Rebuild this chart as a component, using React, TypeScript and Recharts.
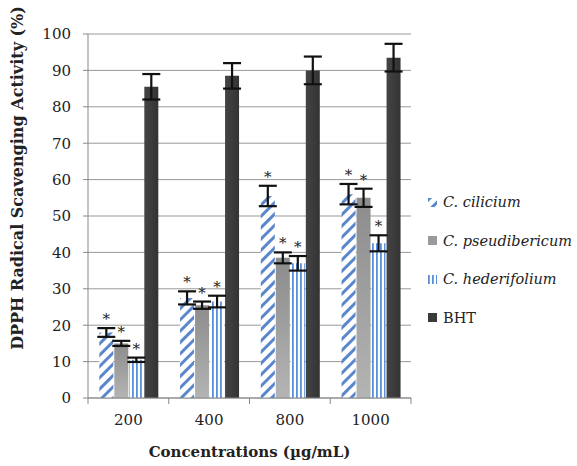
import { BarChart, Bar, XAxis, YAxis, CartesianGrid, ErrorBar, LabelList } from "recharts";

const concentrations = ["200", "400", "800", "1000"];
const cilicium = [18, 27.5, 55.5, 56];
const ciliciumErr = [1.2, 1.8, 2.8, 2.8];
const pseudibericum = [15, 25.5, 38.5, 55];
const pseudibericumErr = [0.7, 1, 1.5, 2.5];
const hederifolium = [10.5, 26.5, 37, 42.5];
const hederifoliumErr = [0.6, 1.6, 2, 2.2];
const bht = [85.5, 88.5, 90, 93.5];
const bhtErr = [3.5, 3.5, 3.8, 3.8];
const yTicks = [0, 10, 20, 30, 40, 50, 60, 70, 80, 90, 100];

const data = concentrations.map((c, i) => ({
  conc: c,
  cil: cilicium[i], cilErr: ciliciumErr[i],
  pse: pseudibericum[i], pseErr: pseudibericumErr[i],
  hed: hederifolium[i], hedErr: hederifoliumErr[i],
  bht: bht[i], bhtErr: bhtErr[i],
}));

const legendItems = [
  { name: "C. cilicium", fill: "url(#diag)", italic: true },
  { name: "C. pseudibericum", fill: "#9a9a9a", italic: true },
  { name: "C. hederifolium", fill: "url(#vert)", italic: true },
  { name: "BHT", fill: "#3a3a3a", italic: false },
];

const font = "'DejaVu Serif', 'Liberation Serif', serif";

const star = (errs: number[]) => (props: any) => {
  const { x, y, width, height, value, index } = props;
  const perUnit = value ? height / value : 0;
  const top = y - errs[index] * perUnit;
  return (
    <text x={x + width / 2} y={top - 4} textAnchor="middle" fontSize={15} fill="#222" fontFamily={font}>*</text>
  );
};

const XTick = (props: any) => {
  const { x, y, payload, index } = props;
  const off = payload.offset || 0;
  return (
    <g>
      <line x1={x - off} x2={x - off} y1={y - 8} y2={y - 2} stroke="#888" />
      {index === concentrations.length - 1 && (
        <line x1={x + off} x2={x + off} y1={y - 8} y2={y - 2} stroke="#888" />
      )}
      <text x={x} y={y + 19} textAnchor="middle" fontSize={15} fill="#222" fontFamily={font}>{payload.value}</text>
    </g>
  );
};

const LegendBox = () => (
  <div style={{ position: "absolute", left: 428, top: 183, fontFamily: font, fontSize: 14.5, color: "#222" }}>
    {legendItems.map((it) => (
      <div key={it.name} style={{ display: "flex", alignItems: "center", height: 38.5 }}>
        <svg width={9} height={9} style={{ marginRight: 6 }}>
          <rect width={9} height={9} fill={it.fill} />
        </svg>
        <span style={{ fontStyle: it.italic ? "italic" : "normal" }}>{it.name}</span>
      </div>
    ))}
  </div>
);

export default function App() {
  return (
    <div style={{ position: "absolute", left: 0, top: 0, width: 577, height: 466, background: "#fff" }}>
      <BarChart width={577} height={466} data={data} margin={{ top: 34, right: 166, bottom: 0, left: 48 }}
        barCategoryGap="14%" barGap={1}>
        <defs>
          <pattern id="diag" width={8} height={8} patternUnits="userSpaceOnUse" patternTransform="rotate(45)">
            <rect width={8} height={8} fill="#fff" />
            <rect width={3} height={8} fill="#5a86cc" />
          </pattern>
          <pattern id="vert" width={4} height={4} patternUnits="userSpaceOnUse">
            <rect width={4} height={4} fill="#fff" />
            <rect width={1.8} height={4} fill="#5b8fd6" />
          </pattern>
          <linearGradient id="grayGrad" x1="0" y1="0" x2="0" y2="1">
            <stop offset="0%" stopColor="#8c8c8c" />
            <stop offset="100%" stopColor="#b4b4b4" />
          </linearGradient>
          <linearGradient id="darkGrad" x1="0" y1="0" x2="1" y2="0">
            <stop offset="0%" stopColor="#444" />
            <stop offset="100%" stopColor="#333" />
          </linearGradient>
        </defs>
        <CartesianGrid vertical={false} stroke="#999" />
        <XAxis dataKey="conc" height={68} stroke="#888" tickLine={false} tick={<XTick />} interval={0}
          label={{ value: "Concentrations (µg/mL)", position: "insideBottom", offset: 9, fontSize: 15, fontWeight: "bold", fill: "#222", fontFamily: font }} />
        <YAxis domain={[0, 100]} ticks={yTicks} width={40} stroke="#888" tickSize={5} tickMargin={12}
          tick={{ fontSize: 15, fill: "#222", fontFamily: font }} interval={0}
          label={{ value: "DPPH Radical Scavenging Activity (%)", angle: -90, position: "insideLeft", dx: -36, dy: -38, fontSize: 16, fontWeight: "bold", fill: "#222", fontFamily: font, style: { textAnchor: "middle" } }} />
        <Bar dataKey="cil" name="C. cilicium" fill="url(#diag)" isAnimationActive={false}>
          <ErrorBar dataKey="cilErr" width={9} stroke="#111" strokeWidth={2.2} />
          <LabelList dataKey="cil" content={star(ciliciumErr)} />
        </Bar>
        <Bar dataKey="pse" name="C. pseudibericum" fill="url(#grayGrad)" isAnimationActive={false}>
          <ErrorBar dataKey="pseErr" width={9} stroke="#111" strokeWidth={2.2} />
          <LabelList dataKey="pse" content={star(pseudibericumErr)} />
        </Bar>
        <Bar dataKey="hed" name="C. hederifolium" fill="url(#vert)" isAnimationActive={false}>
          <ErrorBar dataKey="hedErr" width={9} stroke="#111" strokeWidth={2.2} />
          <LabelList dataKey="hed" content={star(hederifoliumErr)} />
        </Bar>
        <Bar dataKey="bht" name="BHT" fill="url(#darkGrad)" isAnimationActive={false}>
          <ErrorBar dataKey="bhtErr" width={9} stroke="#111" strokeWidth={2.2} />
        </Bar>
      </BarChart>
      <LegendBox />
    </div>
  );
}
